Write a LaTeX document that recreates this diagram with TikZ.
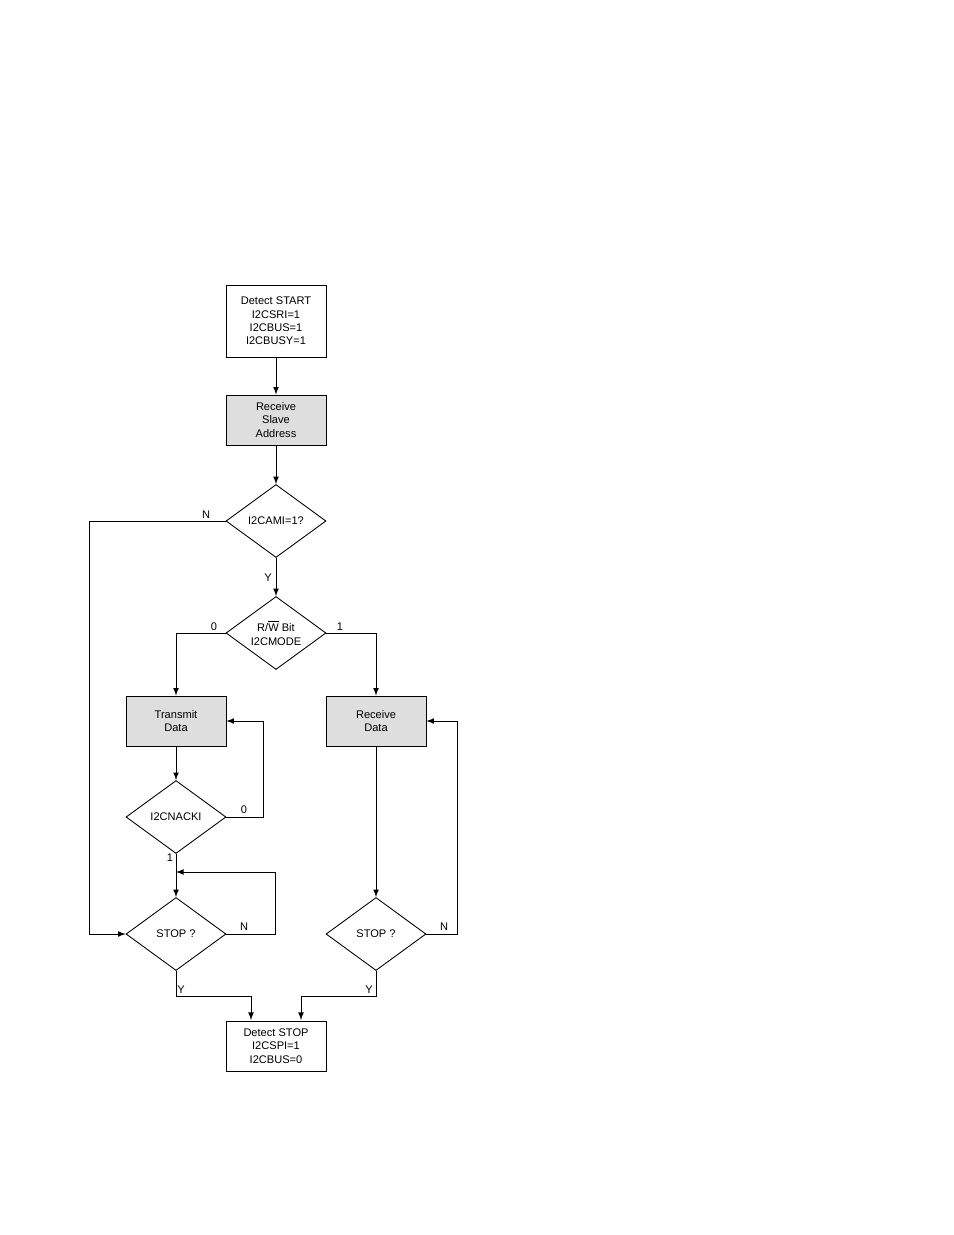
\documentclass[tikz,border=0pt]{standalone}
\usepackage{fontspec}
\setmainfont{Liberation Sans}
\usetikzlibrary{shapes.geometric}
\tikzset{
  box/.style={draw, align=center, minimum width=2cm, minimum height=1cm, inner sep=1pt, font=\fontsize{6.3}{7.6}\selectfont},
  grey/.style={box, fill=black!13},
  dec/.style={draw, diamond, aspect=1.37, minimum width=2cm, minimum height=1.46cm, inner sep=0pt, align=center, font=\fontsize{6.3}{7.6}\selectfont},
  lbl/.style={font=\fontsize{6.3}{7.6}\selectfont, inner sep=1pt}
}
\begin{document}
\begin{tikzpicture}[x=0.02cm, y=-0.02cm, >=latex, line width=0.5pt]
\useasboundingbox (0,0) rectangle (954,1235);

\node (start) [box, minimum height=1.44cm] at (276,321) {Detect START \\ I2CSRI=1 \\ I2CBUS=1 \\ I2CBUSY=1};
\node (addr) [grey] at (276,420) {Receive \\ Slave \\ Address};
\node (ami) [dec] at (276,521) {I2CAMI=1?};
\node (rw) [dec] at (276,633) {R/$\overline{\mbox{W}}$ Bit \\ I2CMODE};
\node (tx) [grey] at (176,721) {Transmit \\ Data};
\node (rx) [grey] at (376,721) {Receive \\ Data};
\node (nack) [dec] at (176,817) {I2CNACKI};
\node (stopl) [dec] at (176,934) {STOP ?};
\node (stopr) [dec] at (376,934) {STOP ?};
\node (end) [box] at (276,1046) {Detect STOP \\ I2CSPI=1 \\ I2CBUS=0};

\draw [->](start) -- (addr);
\draw [->](addr) -- (ami);
\draw [->](ami.south) -- (rw.north);
\draw [->](ami.west) -- (89,521) -- (89,934) -- (stopl.west);
\draw [->](rw.west) -- (176,633) -- (tx.north);
\draw [->](rw.east) -- (376,633) -- (rx.north);
\draw [->](tx) -- (nack);
\draw [->](nack.east) -- (263,817) -- (263,721) -- (tx.east);
\draw [->](nack.south) -- (stopl.north);
\draw [->](stopl.east) -- (275,934) -- (275,872) -- (176,872);
\draw [->](rx) -- (stopr.north);
\draw [->](stopr.east) -- (457,934) -- (457,721) -- (rx.east);
\draw [->](stopl.south) -- (176,996) -- (251,996) -- (251,1020);
\draw [->](stopr.south) -- (376,996) -- (301,996) -- (301,1020);

\node [lbl] at (206,515) {N};
\node [lbl] at (268,578) {Y};
\node [lbl] at (214,627) {0};
\node [lbl] at (340,627) {1};
\node [lbl] at (244,810) {0};
\node [lbl] at (170,858) {1};
\node [lbl] at (244,927) {N};
\node [lbl] at (444,927) {N};
\node [lbl] at (181,990) {Y};
\node [lbl] at (369,990) {Y};
\end{tikzpicture}
\end{document}
